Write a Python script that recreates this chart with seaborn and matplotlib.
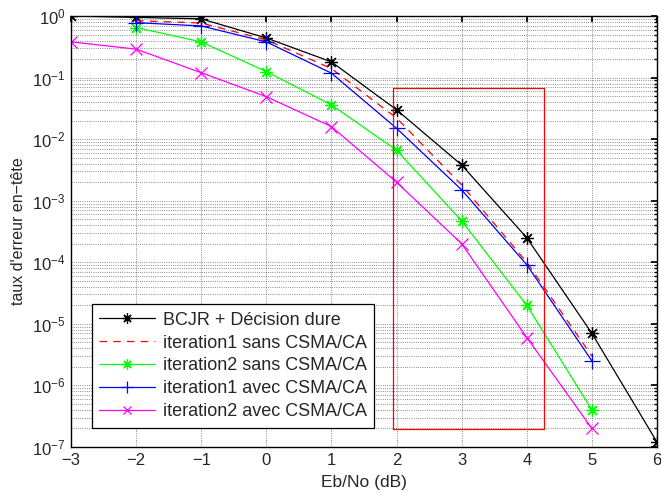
import numpy as np
import pandas as pd
import matplotlib
matplotlib.use("Agg")
import matplotlib.pyplot as plt
import seaborn as sns
from matplotlib.ticker import LogLocator, NullFormatter, FixedLocator

# ---- data ----
x_bcjr = [-3, -2, -1, 0, 1, 2, 3, 4, 5, 6]
y_bcjr = [1.0, 0.95, 0.9, 0.44, 0.18, 0.030, 3.8e-3, 2.5e-4, 7.0e-6, 1.2e-7]

x_it1_sans = [-2, -1, 0, 1, 2, 3, 4, 5]
y_it1_sans = [0.84, 0.77, 0.41, 0.14, 0.022, 1.8e-3, 1.0e-4, 3.0e-6]

x_it2_sans = [-2, -1, 0, 1, 2, 3, 4, 5]
y_it2_sans = [0.65, 0.38, 0.125, 0.036, 6.6e-3, 4.7e-4, 2.0e-5, 4.0e-7]

x_it1_avec = [-2, -1, 0, 1, 2, 3, 4, 5]
y_it1_avec = [0.78, 0.69, 0.38, 0.118, 0.015, 1.5e-3, 9.1e-5, 2.5e-6]

x_it2_avec = [-3, -2, -1, 0, 1, 2, 3, 4, 5]
y_it2_avec = [0.38, 0.29, 0.12, 0.049, 0.016, 2.0e-3, 2.0e-4, 6.0e-6, 2.0e-7]

labels = ["BCJR + Décision dure",
          "iteration1 sans CSMA/CA",
          "iteration2 sans CSMA/CA",
          "iteration1 avec CSMA/CA",
          "iteration2 avec CSMA/CA"]

rect_x = [1.94, 4.27]
rect_y = [1.95e-7, 0.0685]

x_ticks = [-3, -2, -1, 0, 1, 2, 3, 4, 5, 6]

# ---- style ----
sns.set_theme(style="white")
plt.rcParams['font.family'] = ['Liberation Sans', 'DejaVu Sans']
plt.rcParams['mathtext.fontset'] = 'custom'
plt.rcParams['mathtext.rm'] = 'Liberation Sans'

fig = plt.figure(figsize=(6.61, 4.93), dpi=100)
ax = fig.add_axes([0.1074, 0.0933, 0.8866, 0.8742])

asterisk = (8, 2, 0)
series = [
    (x_bcjr, y_bcjr, labels[0], "black", "-", (9, asterisk)),
    (x_it1_sans, y_it1_sans, labels[1], "red", (0, (6, 5)), None),
    (x_it2_sans, y_it2_sans, labels[2], "#00ff00", "-", (9, asterisk)),
    (x_it1_avec, y_it1_avec, labels[3], "blue", "-", (11, "+")),
    (x_it2_avec, y_it2_avec, labels[4], "magenta", "-", (8, "x")),
]

for xs, ys, lab, col, ls, mk in series:
    df = pd.DataFrame({"x": xs, "y": ys})
    kw = dict(x="x", y="y", data=df, ax=ax, color=col, linewidth=0.9, label=lab)
    if mk is not None:
        kw.update(marker=mk[1], markersize=mk[0], markeredgewidth=0.9,
                  markeredgecolor=col)
    sns.lineplot(**kw)
    ax.lines[-1].set_linestyle(ls)

# red rectangle
ax.plot([rect_x[0], rect_x[1], rect_x[1], rect_x[0], rect_x[0]],
        [rect_y[0], rect_y[0], rect_y[1], rect_y[1], rect_y[0]],
        color="red", linewidth=0.9)

ax.set_yscale("log")
ax.set_xlim(-3, 6)
ax.set_ylim(1e-7, 1)
ax.xaxis.set_major_locator(FixedLocator(x_ticks))
ax.set_xticklabels(["\u2212" + str(-t) if t < 0 else str(t) for t in x_ticks])
ax.yaxis.set_major_locator(LogLocator(base=10, numticks=20))
ax.yaxis.set_minor_locator(LogLocator(base=10, subs=np.arange(2, 10), numticks=20))
ax.yaxis.set_minor_formatter(NullFormatter())

ax.grid(True, which="major", axis="both", color="black", linestyle=":", linewidth=0.6, alpha=0.6)
ax.grid(True, which="minor", axis="y", color="black", linestyle=":", linewidth=0.6, alpha=0.6)

ax.tick_params(direction="in", which="both", top=True, right=True, labelsize=12,
               color="black", length=4, pad=4)
ax.tick_params(which="minor", length=2)
for s in ax.spines.values():
    s.set_color("black")
    s.set_linewidth(1.0)

ax.set_xlabel("Eb/No (dB)", fontsize=12.5, labelpad=5)
ax.set_ylabel("taux d'erreur en\u2212tête", fontsize=11.5, labelpad=4)

leg = ax.legend(loc="lower left", bbox_to_anchor=(0.035, 0.045), fontsize=13,
                frameon=True, fancybox=False, edgecolor="black", framealpha=1,
                handlelength=3.1, borderpad=0.4, labelspacing=0.33, handletextpad=0.45,
                markerscale=0.8, borderaxespad=0)
leg.get_frame().set_linewidth(0.9)

fig.savefig("out.png", dpi=100)
